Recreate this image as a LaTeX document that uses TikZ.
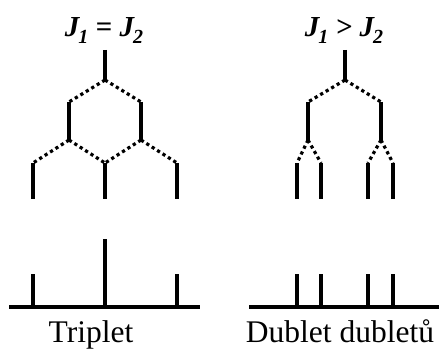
\documentclass[tikz,border=0pt]{standalone}
\usepackage{fontspec}
\setmainfont{Liberation Serif}
\newcommand{\JJsub}[1]{J\kern-1pt\raisebox{-0.22em}{\fontsize{20}{20}\selectfont #1}}
\begin{document}
\begin{tikzpicture}[x=1pt,y=-1pt,
  solid line/.style={line width=3.6pt},
  dot line/.style={line width=3.2pt,dash pattern=on 3.2pt off 3.2pt},
  base line/.style={line width=4pt},
  toplabel/.style={anchor=base,font=\fontsize{29}{30}\selectfont\bfseries\itshape,inner sep=0pt},
  botlabel/.style={anchor=base,font=\fontsize{31.5}{36}\selectfont,inner sep=0pt}]
\useasboundingbox (0,0) rectangle (439,350);
% labels
\node[toplabel] (lt) at (104,37) {\JJsub{1} = \JJsub{2}};
\node[toplabel] (rt) at (344,37) {\JJsub{1} > \JJsub{2}};
\node[botlabel] (lb) at (91,342) {Triplet};
\node[botlabel] (rb) at (340,342) {Dublet dubletů};
% left tree
\coordinate (a0) at (105,50);
\coordinate (a1) at (105,80);
\coordinate (b1) at (69,102);
\coordinate (b2) at (141,102);
\coordinate (b1d) at (69,140);
\coordinate (b2d) at (141,140);
\coordinate (c1) at (33,163);
\coordinate (c2) at (105,163);
\coordinate (c3) at (177,163);
\coordinate (c1d) at (33,199);
\coordinate (c2d) at (105,199);
\coordinate (c3d) at (177,199);
\draw[solid line] (a0) -- (a1);
\draw[dot line] (a1) -- (b1);
\draw[dot line] (a1) -- (b2);
\draw[solid line] (b1) -- (b1d);
\draw[solid line] (b2) -- (b2d);
\draw[dot line] (b1d) -- (c1);
\draw[dot line] (b1d) -- (c2);
\draw[dot line] (b2d) -- (c2);
\draw[dot line] (b2d) -- (c3);
\draw[solid line] (c1) -- (c1d);
\draw[solid line] (c2) -- (c2d);
\draw[solid line] (c3) -- (c3d);
% right tree
\coordinate (r0) at (345,50);
\coordinate (r1) at (345,80);
\coordinate (s1) at (308,102);
\coordinate (s2) at (381,102);
\coordinate (s1d) at (308,140);
\coordinate (s2d) at (381,140);
\coordinate (t1) at (297,163);
\coordinate (t2) at (321,163);
\coordinate (t3) at (368,163);
\coordinate (t4) at (393,163);
\coordinate (t1d) at (297,199);
\coordinate (t2d) at (321,199);
\coordinate (t3d) at (368,199);
\coordinate (t4d) at (393,199);
\draw[solid line] (r0) -- (r1);
\draw[dot line] (r1) -- (s1);
\draw[dot line] (r1) -- (s2);
\draw[solid line] (s1) -- (s1d);
\draw[solid line] (s2) -- (s2d);
\draw[dot line] (s1d) -- (t1);
\draw[dot line] (s1d) -- (t2);
\draw[dot line] (s2d) -- (t3);
\draw[dot line] (s2d) -- (t4);
\foreach \i in {1,2,3,4} \draw[solid line] (t\i) -- (t\i d);
% spectra
\coordinate (lbl) at (9,307);
\coordinate (lbr) at (200,307);
\draw[base line] (lbl) -- (lbr);
\coordinate (p1) at (33,307); \coordinate (p1t) at (33,274);
\coordinate (p2) at (105,307); \coordinate (p2t) at (105,239);
\coordinate (p3) at (177,307); \coordinate (p3t) at (177,274);
\draw[solid line] (p1) -- (p1t);
\draw[solid line] (p2) -- (p2t);
\draw[solid line] (p3) -- (p3t);
\coordinate (rbl) at (249,307);
\coordinate (rbr) at (439,307);
\draw[base line] (rbl) -- (rbr);
\coordinate (q1) at (297,307); \coordinate (q1t) at (297,274);
\coordinate (q2) at (321,307); \coordinate (q2t) at (321,274);
\coordinate (q3) at (368,307); \coordinate (q3t) at (368,274);
\coordinate (q4) at (393,307); \coordinate (q4t) at (393,274);
\foreach \i in {1,2,3,4} \draw[solid line] (q\i) -- (q\i t);
\end{tikzpicture}
\end{document}
